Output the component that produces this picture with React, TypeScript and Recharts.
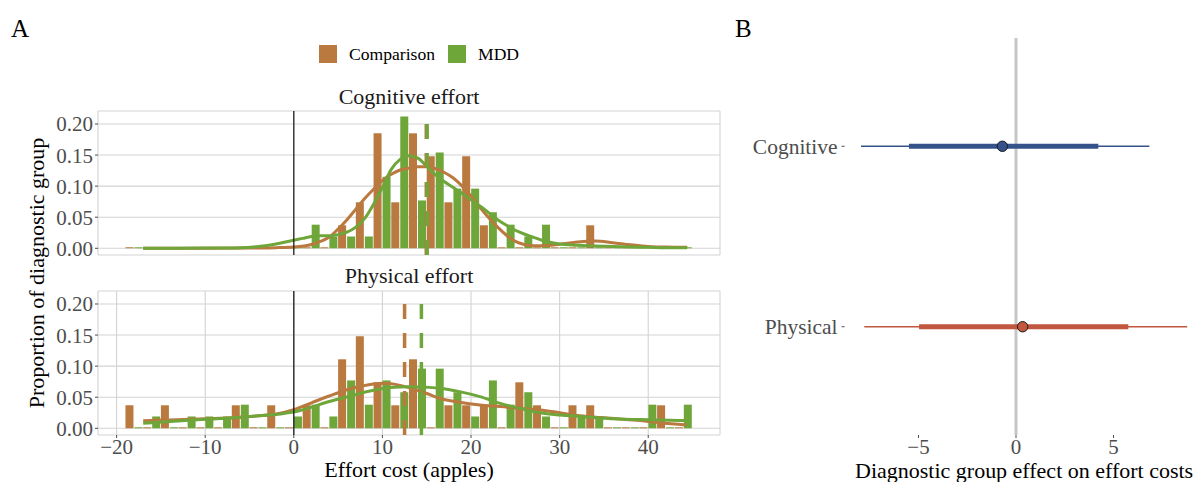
import React from 'react';
import {
  BarChart, Bar, LineChart, Line, XAxis, YAxis, CartesianGrid, ReferenceLine,
  Legend, ScatterChart, Scatter, ErrorBar,
} from 'recharts';

const FONT = '"Liberation Serif", "Times New Roman", Times, serif';
const ORANGE = '#b9793f';
const GREEN = '#6fa63a';
const TICK_GRAY = '#4d4d4d';

// ---------- Panel A data ----------
const binCenters = [-18, -16, -14, -12, -10, -8, -6, -4, -2, 0, 2, 4, 6, 8, 10, 12, 14, 16, 18, 20, 22, 24, 26, 28, 30, 32, 34, 36, 38, 40, 42, 44];

const cognitiveComparison = [0, 0, 0, 0, 0, 0, 0, 0, 0, 0, 0, 0, 0.037, 0.074, 0.185, 0.074, 0.185, 0.148, 0.074, 0.148, 0.037, 0, 0, 0, 0, 0, 0.037, 0, 0, 0, 0, 0];
const cognitiveMDD = [0, 0, 0, 0, 0, 0, 0, 0, 0, 0, 0.038, 0.019, 0.019, 0.019, 0.115, 0.212, 0.077, 0.154, 0.096, 0.096, 0.058, 0.038, 0.019, 0.038, 0, 0, 0, 0, 0, 0, 0, 0];
const physicalComparison = [0.037, 0, 0.037, 0, 0, 0, 0.037, 0, 0.037, 0, 0.037, 0, 0.111, 0.148, 0.074, 0.037, 0.111, 0, 0.037, 0.037, 0.037, 0, 0.074, 0.037, 0, 0.037, 0.037, 0, 0, 0, 0.037, 0];
const physicalMDD = [0, 0.019, 0, 0.019, 0.019, 0.019, 0.038, 0, 0, 0.019, 0.038, 0.019, 0.077, 0.038, 0.077, 0.058, 0.096, 0.096, 0.058, 0.019, 0.077, 0.038, 0.058, 0.019, 0, 0.019, 0.019, 0, 0, 0.038, 0, 0.038];

// density curves
const cogCompCurveX = [-17, -10, -5, -2, 0, 2, 3, 4, 5, 6, 7, 8, 9, 10, 11, 12, 13, 14, 15, 16, 17, 18, 19, 20, 21, 22, 23, 24, 25, 26, 27, 28, 30, 32, 34, 36, 38, 40, 42, 44.4];
const cogCompCurveY = [0, 0, 0.0005, 0.001, 0.002, 0.006, 0.011, 0.018, 0.031, 0.046, 0.063, 0.08, 0.095, 0.109, 0.119, 0.126, 0.129, 0.131, 0.131, 0.128, 0.122, 0.113, 0.1, 0.084, 0.066, 0.049, 0.034, 0.021, 0.011, 0.006, 0.004, 0.004, 0.0065, 0.01, 0.0118, 0.009, 0.0057, 0.003, 0.002, 0.0015];
const cogMddCurveX = [-17, -10, -6, -4, -2, 0, 1, 2, 3, 4, 5, 6, 7, 8, 9, 10, 11, 12, 13, 14, 15, 16, 17, 18, 19, 20, 21, 22, 23, 24, 25, 26, 27, 28, 30, 32, 34, 36, 38, 40, 42, 44.4];
const cogMddCurveY = [0, 0.0003, 0.001, 0.003, 0.007, 0.013, 0.016, 0.019, 0.02, 0.02, 0.022, 0.026, 0.034, 0.048, 0.071, 0.098, 0.127, 0.143, 0.149, 0.145, 0.132, 0.118, 0.107, 0.098, 0.088, 0.078, 0.068, 0.057, 0.046, 0.037, 0.029, 0.023, 0.018, 0.013, 0.007, 0.005, 0.0035, 0.003, 0.002, 0.0015, 0.001, 0.001];
const phyCompCurveX = [-17, -14, -10, -7, -4, -2, 0, 2, 4, 6, 8, 10, 11, 12, 13.5, 15, 16.5, 18.7, 21, 23.3, 25.5, 27.8, 30, 32.3, 34.6, 36.8, 39.1, 41.3, 44.3];
const phyCompCurveY = [0.012, 0.0135, 0.0155, 0.017, 0.02, 0.023, 0.03, 0.041, 0.052, 0.062, 0.069, 0.0725, 0.0715, 0.069, 0.063, 0.056, 0.048, 0.042, 0.0376, 0.035, 0.032, 0.0296, 0.025, 0.02, 0.0172, 0.015, 0.0124, 0.009, 0.0054];
const phyMddCurveX = [-17, -14, -10, -7, -4, -1.5, 0.7, 2, 4, 6.4, 8.6, 10.9, 13, 15, 16.5, 18.7, 21, 23.3, 25.5, 27.8, 30, 32.3, 34.6, 36.8, 39.1, 41.3, 44.3];
const phyMddCurveY = [0.008, 0.011, 0.0145, 0.0167, 0.02, 0.023, 0.0285, 0.034, 0.043, 0.052, 0.06, 0.0656, 0.067, 0.066, 0.0645, 0.059, 0.051, 0.04, 0.032, 0.025, 0.0215, 0.019, 0.0167, 0.015, 0.014, 0.0134, 0.0124];

// group means (dashed lines)
const cognitiveMeans = [14.95, 15.05]; // Comparison, MDD
const physicalMeans = [12.5, 14.4];

const xTicksA = [-20, -10, 0, 10, 20, 30, 40];
const yTicksA = [0, 0.05, 0.1, 0.15, 0.2];
const X_DOMAIN_A: [number, number] = [-22.1, 48.1];
const Y_DOMAIN_A: [number, number] = [-0.0108, 0.2209];

const legendLabels = ['Comparison', 'MDD'];
const legendColors = [ORANGE, GREEN];

// ---------- Panel B data ----------
const forestRows = ['Cognitive', 'Physical'];
const forestEstimates = [-0.7, 0.34];
const forestInnerLo = [-5.49, -4.97];
const forestInnerHi = [4.22, 5.76];
const forestOuterLo = [-7.95, -7.78];
const forestOuterHi = [6.84, 8.78];
const forestColors = ['#36528a', '#c0573e'];
const xTicksB = [-5, 0, 5];

const fmtMinus = (v: number) => (v < 0 ? '\u2212' + Math.abs(v) : String(v));

const toCurve = (xs: number[], ys: number[]) => xs.map((x, i) => ({ x, y: ys[i] }));

const tickStyle = { fill: TICK_GRAY, fontSize: 21, fontFamily: FONT };

const CSS = `
.recharts-wrapper text, .recharts-text, .recharts-label { font-family: "Liberation Serif", "Times New Roman", Times, serif !important; }
`;

function LegendContent() {
  return (
    <div style={{ display: 'flex', alignItems: 'center', fontFamily: FONT, fontSize: 17.6, lineHeight: '18px', color: '#000' }}>
      {legendLabels.map((l, i) => (
        <div key={l} style={{ display: 'flex', alignItems: 'center', marginRight: 13 }}>
          <span style={{ display: 'inline-block', width: 18, height: 18, background: legendColors[i], marginRight: 12 }} />
          <span>{l}</span>
        </div>
      ))}
    </div>
  );
}

type PanelProps = {
  top: number;
  comp: number[];
  mdd: number[];
  compCurve: { x: number; y: number }[];
  mddCurve: { x: number; y: number }[];
  means: number[];
  showX: boolean;
  legend?: boolean;
};

function HistPanel({ top, comp, mdd, compCurve, mddCurve, means, showX, legend }: PanelProps) {
  const data = binCenters.map((b, i) => ({ bin: b, comp: comp[i], mdd: mdd[i] }));
  const bottomMargin = showX ? 17 : 12;
  const axisH = showX ? 30 : 0;
  const h = 10 + 144 + axisH + bottomMargin;
  const W = 730;
  return (
    <div style={{ position: 'absolute', left: 0, top, width: W, height: h }}>
      <div style={{ position: 'absolute', left: 0, top: 0 }}>
        <BarChart width={W} height={h} data={data} margin={{ top: 10, right: 10, bottom: bottomMargin, left: 38 }} barGap={1}>
          <CartesianGrid stroke="#d3d3d3" strokeWidth={1.1} />
          <XAxis
            type="number" dataKey="bin" domain={X_DOMAIN_A} allowDataOverflow ticks={xTicksA} interval={0}
            height={axisH} tick={showX ? tickStyle : false} tickLine={showX ? { stroke: TICK_GRAY } : false}
            tickSize={3} tickMargin={1} axisLine={false} tickFormatter={fmtMinus}
            label={showX ? { value: 'Effort cost (apples)', position: 'bottom', offset: -4, fill: '#000', fontSize: 22, fontFamily: FONT } : undefined}
          />
          <YAxis
            type="number" domain={Y_DOMAIN_A} allowDataOverflow ticks={yTicksA} interval={0} width={60}
            tick={tickStyle} tickLine={{ stroke: TICK_GRAY }} tickSize={3} tickMargin={2} axisLine={false}
            tickFormatter={(v: number) => v.toFixed(2)}
          />
          <Bar dataKey="comp" name="Comparison" fill={ORANGE} barSize={8} minPointSize={1} isAnimationActive={false} />
          <Bar dataKey="mdd" name="MDD" fill={GREEN} barSize={8} minPointSize={1} isAnimationActive={false} />
          {legend && (
            <Legend
              layout="horizontal" verticalAlign="middle" align="center"
              content={() => <LegendContent />}
              wrapperStyle={{ left: 319, top: -56, width: 320 }}
            />
          )}
        </BarChart>
      </div>
      <div style={{ position: 'absolute', left: 0, top: 0 }}>
        <LineChart width={W} height={h} margin={{ top: 10, right: 10, bottom: axisH + bottomMargin, left: 98 }}>
          <XAxis type="number" dataKey="x" domain={X_DOMAIN_A} allowDataOverflow hide />
          <YAxis type="number" domain={Y_DOMAIN_A} allowDataOverflow hide />
          <Line data={compCurve} dataKey="y" type="monotone" stroke={ORANGE} strokeWidth={3} dot={false} activeDot={false} isAnimationActive={false} />
          <Line data={mddCurve} dataKey="y" type="monotone" stroke={GREEN} strokeWidth={3} dot={false} activeDot={false} isAnimationActive={false} />
          <ReferenceLine x={means[0]} stroke={ORANGE} strokeWidth={3.5} strokeDasharray="15 14" />
          <ReferenceLine x={means[1]} stroke={GREEN} strokeWidth={3.5} strokeDasharray="15 14" />
          <ReferenceLine x={0} stroke="#1a1a1a" strokeWidth={1.3} />
        </LineChart>
      </div>
    </div>
  );
}

function ForestPanel() {
  const rowsData = forestRows.map((r, i) => [{
    x: forestEstimates[i],
    y: i + 1,
    inner: [forestEstimates[i] - forestInnerLo[i], forestInnerHi[i] - forestEstimates[i]],
    outer: [forestEstimates[i] - forestOuterLo[i], forestOuterHi[i] - forestEstimates[i]],
  }]);
  return (
    <div style={{ position: 'absolute', left: 700, top: 27.5 }}>
      <ScatterChart width={503.6} height={457} margin={{ top: 10, right: 0, bottom: 20, left: 0 }}>
        <XAxis
          type="number" dataKey="x" domain={[-8.79, 9.62]} allowDataOverflow ticks={xTicksB} interval={0}
          height={30} tick={tickStyle} tickLine={{ stroke: TICK_GRAY }} tickSize={3} tickMargin={1} axisLine={false}
          tickFormatter={fmtMinus}
          label={{ value: 'Diagnostic group effect on effort costs', position: 'bottom', offset: -3, fill: '#000', fontSize: 22, fontFamily: FONT }}
        />
        <YAxis
          type="number" dataKey="y" domain={[0.4, 2.6]} allowDataOverflow reversed ticks={[1, 2]} interval={0}
          width={144.6} tick={{ ...tickStyle, fontSize: 21.5 }} tickLine={{ stroke: TICK_GRAY }} tickSize={3} tickMargin={4} axisLine={false}
          tickFormatter={(v: number) => forestRows[Math.round(v) - 1] ?? ''}
        />
        <ReferenceLine x={0} stroke="#c6c6c6" strokeWidth={3} />
        {forestRows.map((r, i) => (
          <Scatter
            key={r} name={r} data={rowsData[i]} fill={forestColors[i]} isAnimationActive={false}
            shape={(p: any) => <circle cx={p.cx} cy={p.cy} r={5.2} fill={forestColors[i]} stroke="#1a1a1a" strokeWidth={1} />}
          >
            <ErrorBar dataKey="outer" direction="x" width={0} stroke={forestColors[i]} strokeWidth={1.3} />
            <ErrorBar dataKey="inner" direction="x" width={0} stroke={forestColors[i]} strokeWidth={5} />
          </Scatter>
        ))}
      </ScatterChart>
    </div>
  );
}

export default function App() {
  return (
    <div style={{ position: 'absolute', left: 0, top: 0, width: 1195, height: 482, overflow: 'hidden', background: '#fff', fontFamily: FONT }}>
      <style>{CSS}</style>
      <svg width={1195} height={482} style={{ position: 'absolute', left: 0, top: 0 }}>
        <text x={11} y={37} fontSize={25} fontFamily={FONT} fill="#000">A</text>
        <text x={735} y={37} fontSize={25} fontFamily={FONT} fill="#000">B</text>
        <text x={409} y={104} textAnchor="middle" fontSize={22} fontFamily={FONT} fill="#1a1a1a">Cognitive effort</text>
        <text x={409} y={283} textAnchor="middle" fontSize={22} fontFamily={FONT} fill="#1a1a1a">Physical effort</text>
        <text transform="translate(44,273) rotate(-90)" textAnchor="middle" fontSize={22} fontFamily={FONT} fill="#000">Proportion of diagnostic group</text>
      </svg>
      <HistPanel
        top={101} comp={cognitiveComparison} mdd={cognitiveMDD}
        compCurve={toCurve(cogCompCurveX, cogCompCurveY)} mddCurve={toCurve(cogMddCurveX, cogMddCurveY)}
        means={cognitiveMeans} showX={false} legend
      />
      <HistPanel
        top={281} comp={physicalComparison} mdd={physicalMDD}
        compCurve={toCurve(phyCompCurveX, phyCompCurveY)} mddCurve={toCurve(phyMddCurveX, phyMddCurveY)}
        means={physicalMeans} showX
      />
      <ForestPanel />
    </div>
  );
}
